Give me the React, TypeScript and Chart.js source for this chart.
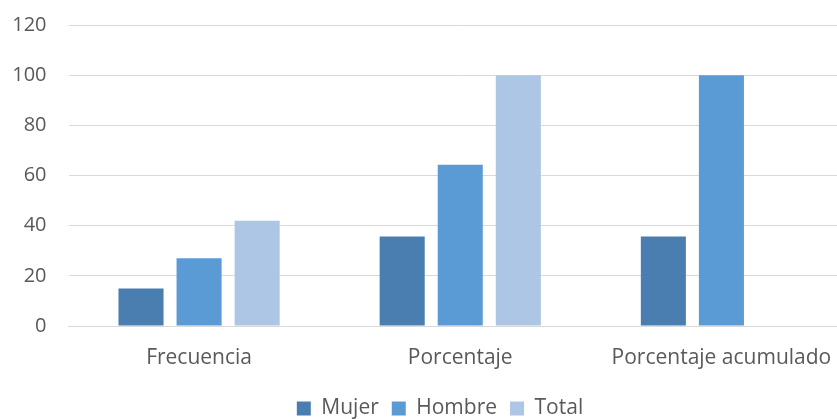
import React, { useEffect, useRef } from "react";
import { Chart, registerables } from "chart.js";

Chart.register(...registerables);

const categories = ["Frecuencia", "Porcentaje", "Porcentaje acumulado"];
const mujer = [15, 35.7, 35.7];
const hombre = [27, 64.3, 100];
const total = [42, 100, null];
const yMin = 0;
const yMax = 120;
const yStep = 20;

const FONT = "'Open Sans', 'Liberation Sans', sans-serif";
const TEXT = "#595959";
const GRID = "#d9d9d9";

// Center the legend row on the full canvas width rather than on the padded box.
const legendCenter = {
  id: "legendCenter",
  afterLayout(chart: any) {
    if (chart.legend) {
      chart.legend.left = 28;
      chart.legend.right = chart.width - 28;
    }
  },
};

export default function App() {
  const canvasRef = useRef<HTMLCanvasElement | null>(null);

  useEffect(() => {
    if (!canvasRef.current) return;
    const chart = new Chart(canvasRef.current, {
      type: "bar",
      data: {
        labels: categories,
        datasets: [
          { label: "Mujer", data: mujer, backgroundColor: "#4a7eb0" },
          { label: "Hombre", data: hombre, backgroundColor: "#5b9bd5" },
          { label: "Total", data: total, backgroundColor: "#adc6e5" },
        ],
      },
      plugins: [legendCenter],
      options: {
        animation: false,
        responsive: false,
        maintainAspectRatio: false,
        layout: { padding: { top: 25, left: 0, right: 28, bottom: 2 } },
        datasets: {
          bar: { categoryPercentage: 0.667, barPercentage: 0.776 },
        },
        plugins: {
          tooltip: { enabled: false },
          legend: {
            position: "bottom",
            labels: {
              boxWidth: 14,
              boxHeight: 14,
              padding: 13,
              color: TEXT,
              font: { family: FONT, size: 21 },
            },
          },
        },
        scales: {
          x: {
            grid: { display: false, drawTicks: false },
            border: { color: GRID, width: 1 },
            ticks: {
              color: TEXT,
              font: { family: FONT, size: 21 },
              padding: 19,
              maxRotation: 0,
            },
            afterFit: (scale: any) => {
              scale.height = 59;
            },
          },
          y: {
            min: yMin,
            max: yMax,
            grid: { color: GRID, lineWidth: 1, drawTicks: false },
            border: { display: false },
            ticks: {
              stepSize: yStep,
              color: TEXT,
              font: { family: FONT, size: 20 },
              padding: 22,
            },
            afterFit: (scale: any) => {
              scale.width = 68.5;
              scale.paddingTop = 0;
              scale.paddingBottom = 0;
            },
          },
        },
      },
    });
    return () => chart.destroy();
  }, []);

  return (
    <div
      style={{
        position: "fixed",
        left: 0,
        top: 0,
        width: 837,
        height: 419,
        overflow: "hidden",
        background: "#fff",
      }}
    >
      <canvas ref={canvasRef} width={880} height={431} style={{ display: "block" }} />
    </div>
  );
}
